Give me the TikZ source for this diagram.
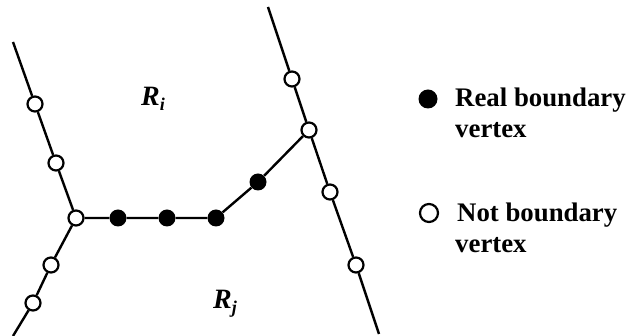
\documentclass[tikz,border=0pt]{standalone}
\usepackage{fontspec}
\setmainfont{Liberation Serif}
\begin{document}
\begin{tikzpicture}[x=1pt,y=-1pt,
  edge/.style={line width=2.4pt},
  openv/.style={circle,draw,line width=2.2pt,fill=white,minimum size=15pt,inner sep=0pt},
  realv/.style={circle,fill=black,minimum size=17pt,inner sep=0pt},
  legtext/.style={anchor=base west,inner sep=0pt,font=\fontsize{26.8}{31}\selectfont\bfseries},
  region/.style={inner sep=0pt,font=\fontsize{28}{28}\selectfont\bfseries\itshape}]
\useasboundingbox (0,0) rectangle (630,336);
% free ends
\coordinate (lt) at (13,42);
\coordinate (lb) at (13,336);
\coordinate (rt) at (268,7);
\coordinate (rb) at (379,334);
% vertices
\node[openv] (o1) at (35,104) {};
\node[openv] (o2) at (56,163) {};
\node[openv] (j1) at (76,218) {};
\node[openv] (o3) at (51,265) {};
\node[openv] (o4) at (33,303) {};
\node[realv] (f1) at (118,218) {};
\node[realv] (f2) at (167,218) {};
\node[realv] (f3) at (216,218) {};
\node[realv] (f4) at (258,182) {};
\node[openv] (j2) at (309,130) {};
\node[openv] (o5) at (292,79) {};
\node[openv] (o6) at (330,192) {};
\node[openv] (o7) at (356,265) {};
% edges
\draw[edge] (lt) -- (o1) -- (o2) -- (j1) -- (o3) -- (o4) -- (lb);
\draw[edge] (j1) -- (f1) -- (f2) -- (f3) -- (f4) -- (j2);
\draw[edge] (rt) -- (o5) -- (j2) -- (o6) -- (o7) -- (rb);
% region labels
\node[region,anchor=base west] (ri) at (141,106) {R\raisebox{-5pt}{\fontsize{18}{18}\selectfont i}};
\node[region,anchor=base west] (rj) at (213,309) {R\raisebox{-5pt}{\fontsize{18}{18}\selectfont j}};
% legend
\node[realv,minimum size=19pt] (lf) at (428,99) {};
\node[openv,minimum size=18pt] (lo) at (429,213) {};
\node[legtext] (t1) at (455,107) {Real boundary};
\node[legtext] (t2) at (455,138) {vertex};
\node[legtext] (t3) at (457,222) {Not boundary};
\node[legtext] (t4) at (455,253) {vertex};
\end{tikzpicture}
\end{document}
